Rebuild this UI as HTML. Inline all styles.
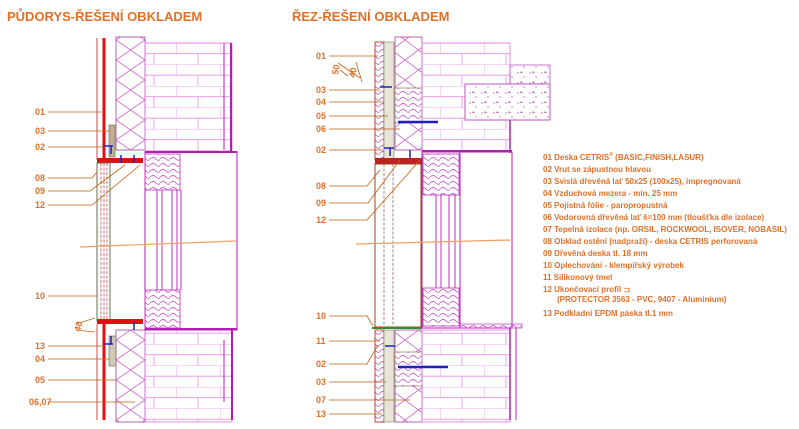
<!DOCTYPE html>
<html><head><meta charset="utf-8"><style>
body{margin:0;background:#fff;}
svg{display:block;font-family:"Liberation Sans",sans-serif;}
.t{fill:#e0702a;font-weight:bold;font-size:13px;}
.l{fill:#e0702a;font-weight:bold;font-size:9px;}
.g{fill:#e0702a;font-weight:bold;font-size:8px;}
</style></head><body>
<svg width="799" height="429" viewBox="0 0 799 429" xmlns="http://www.w3.org/2000/svg">
<defs>
<pattern id="zz" width="29" height="20" patternUnits="userSpaceOnUse"><path d="M0,0 L29,20 M29,0 L0,20" stroke="#c040c0" stroke-width="0.7" fill="none"/></pattern>
<pattern id="zz2" width="27" height="20" patternUnits="userSpaceOnUse"><path d="M0,0 L27,20 M27,0 L0,20" stroke="#c040c0" stroke-width="0.7" fill="none"/></pattern>
<pattern id="br" width="44" height="21.5" patternUnits="userSpaceOnUse"><path d="M0,0 H44 M0,0 V10.7 M22,10.7 V21.5 M0,10.7 H44" stroke="#e890e8" stroke-width="0.8" fill="none"/></pattern>
<pattern id="wd" width="10" height="6" patternUnits="userSpaceOnUse"><path d="M0,3 Q3,0 6,3 T10,3" stroke="#c030c0" stroke-width="0.6" fill="none"/></pattern>
<pattern id="cn" width="12" height="10" patternUnits="userSpaceOnUse"><circle cx="2" cy="3" r="0.6" fill="#a030a0"/><circle cx="8" cy="7" r="0.6" fill="#a030a0"/><path d="M5,1 l2,2 -3,0z" fill="#c060c0"/></pattern>
</defs>
<text class="t" x="7" y="21">PŮDORYS-ŘEŠENÍ OBKLADEM</text>
<text class="t" x="292" y="21">ŘEZ-ŘEŠENÍ OBKLADEM</text>

<!-- LEFT drawing -->
<g>
<rect x="116" y="37" width="29" height="113" fill="url(#zz)" stroke="#a040a0" stroke-width="0.8"/>
<rect x="145" y="43" width="87" height="108" fill="url(#br)" stroke="#e070e0" stroke-width="0.8"/>
<line x1="231" y1="43" x2="231" y2="153" stroke="#b020b0" stroke-width="2"/>
<line x1="224" y1="43" x2="224" y2="150" stroke="#b020b0" stroke-width="1"/>
<rect x="116" y="330" width="29" height="92" fill="url(#zz)" stroke="#a040a0" stroke-width="0.8"/>
<rect x="145" y="330" width="87" height="92" fill="url(#br)" stroke="#e070e0" stroke-width="0.8"/>
<line x1="232" y1="328" x2="232" y2="420" stroke="#b020b0" stroke-width="2"/>
<line x1="224" y1="340" x2="224" y2="402" stroke="#b020b0" stroke-width="1"/>
<line x1="145" y1="152" x2="237" y2="152" stroke="#b020b0" stroke-width="2"/>
<line x1="145" y1="329" x2="237" y2="329" stroke="#b020b0" stroke-width="2"/>
<rect x="145" y="152" width="92" height="178" fill="none" stroke="#b020b0" stroke-width="1"/>
<rect x="145" y="154" width="35" height="36" fill="url(#wd)" stroke="#c030c0" stroke-width="0.8"/>
<rect x="145" y="290" width="35" height="38" fill="url(#wd)" stroke="#c030c0" stroke-width="0.8"/>
<g stroke="#b020b0" stroke-width="0.9"><line x1="157" y1="190" x2="157" y2="290"/><line x1="162" y1="190" x2="162" y2="290"/><line x1="172" y1="190" x2="172" y2="290"/><line x1="177" y1="190" x2="177" y2="290"/><line x1="181" y1="190" x2="181" y2="290"/></g>
<line x1="97" y1="38" x2="97" y2="160" stroke="#c02020" stroke-width="0.8"/>
<line x1="104" y1="38" x2="104" y2="160" stroke="#e01010" stroke-width="3"/>
<rect x="109" y="125" width="6" height="32" fill="#c0b090" stroke="#706050" stroke-width="0.6"/>
<rect x="97" y="158" width="46" height="5" fill="#e01010"/>
<rect x="97" y="163" width="13" height="158" fill="none" stroke="#607050" stroke-width="1"/>
<g stroke="#c03030" stroke-width="0.7" stroke-dasharray="3,1.5"><line x1="101" y1="163" x2="101" y2="320"/><line x1="104" y1="163" x2="104" y2="320"/><line x1="107" y1="163" x2="107" y2="320"/></g>
<rect x="97" y="319" width="46" height="5" fill="#e01010"/>
<line x1="104" y1="324" x2="104" y2="420" stroke="#e01010" stroke-width="3"/>
<line x1="97" y1="324" x2="97" y2="420" stroke="#c02020" stroke-width="0.8"/>
<rect x="109" y="336" width="7" height="30" fill="#d0c8b0" stroke="#706050" stroke-width="0.6"/>
<g stroke="#2020c0" stroke-width="1.5"><path d="M103,146 h10 M111,146 v8 M121,155 v8 M134,155 v8 M103,344 h10 M111,336 v8 M134,322 v8"/></g>
<path d="M80,247 L236,241" stroke="#f0a060" stroke-width="1.2"/>
<g stroke="#c06010" stroke-width="0.8" fill="none">
<path d="M48,112 H104 M48,131 H110 M48,147 H105"/>
<path d="M48,178 H92 L97,172 M48,191 H90 L125,165 M48,205 H92 L140,165"/>
<path d="M48,296 H97 M48,346 H104 M48,359 H110 M48,380 H116 M48,402 H135"/>
<path d="M76,324 L95,318 M76,330 L95,332"/>
</g>
<g class="l"><text x="35" y="115">01</text><text x="35" y="134">03</text><text x="35" y="150">02</text><text x="35" y="181">08</text><text x="35" y="194">09</text><text x="35" y="208">12</text><text x="35" y="299">10</text><text x="35" y="349">13</text><text x="35" y="362">04</text><text x="35" y="383">05</text><text x="29" y="405">06,07</text></g>
<text class="l" x="0" y="0" transform="translate(80,332) rotate(-75)">40</text>
</g>

<!-- RIGHT drawing -->
<g>
<rect x="395" y="37" width="27" height="113" fill="url(#zz2)" stroke="#a040a0" stroke-width="0.8"/>
<rect x="395" y="88" width="27" height="35" fill="#fff" stroke="#806040" stroke-width="0.6"/>
<rect x="395" y="88" width="27" height="35" fill="url(#wd)"/>
<rect x="422" y="43" width="88" height="108" fill="url(#br)" stroke="#e070e0" stroke-width="0.8"/>
<rect x="510" y="65" width="40" height="20" fill="url(#cn)" stroke="#c050c0" stroke-width="0.8"/>
<rect x="465" y="84" width="85" height="36" fill="#fff" stroke="#c050c0" stroke-width="1"/>
<rect x="465" y="84" width="85" height="36" fill="url(#cn)"/>
<line x1="510" y1="120" x2="510" y2="153" stroke="#b020b0" stroke-width="1.5"/>
<line x1="422" y1="151" x2="512" y2="151" stroke="#b020b0" stroke-width="2"/>
<rect x="422" y="152" width="90" height="176" fill="none" stroke="#b020b0" stroke-width="1"/>
<line x1="460" y1="152" x2="460" y2="328" stroke="#b020b0" stroke-width="1"/>
<rect x="423" y="154" width="36" height="41" fill="url(#wd)" stroke="#c030c0" stroke-width="0.8"/>
<rect x="423" y="288" width="36" height="38" fill="url(#wd)" stroke="#c030c0" stroke-width="0.8"/>
<g stroke="#b020b0" stroke-width="0.9"><line x1="436" y1="195" x2="436" y2="288"/><line x1="441" y1="195" x2="441" y2="288"/><line x1="449" y1="195" x2="449" y2="288"/><line x1="455" y1="195" x2="455" y2="288"/></g>
<rect x="460" y="324" width="62" height="4" fill="url(#wd)" stroke="#c030c0" stroke-width="0.7"/>
<rect x="395" y="330" width="27" height="92" fill="url(#zz2)" stroke="#a040a0" stroke-width="0.8"/>
<rect x="395" y="352" width="27" height="34" fill="#fff" stroke="#806040" stroke-width="0.6"/>
<rect x="395" y="352" width="27" height="34" fill="url(#wd)"/>
<rect x="422" y="330" width="88" height="92" fill="url(#br)" stroke="#e070e0" stroke-width="0.8"/>
<line x1="510" y1="328" x2="510" y2="420" stroke="#b020b0" stroke-width="1.5"/>
<line x1="516" y1="328" x2="516" y2="420" stroke="#b020b0" stroke-width="1"/>
<rect x="375" y="42" width="9" height="118" fill="url(#wd)" stroke="#b03020" stroke-width="0.9"/>
<rect x="384" y="42" width="10" height="118" fill="#e8e4d8" stroke="#708060" stroke-width="0.6"/>
<rect x="375" y="158" width="47" height="6" fill="#c02020"/>
<rect x="375" y="164" width="46" height="163" fill="none" stroke="#a04020" stroke-width="1"/>
<g stroke="#805050" stroke-width="0.7" stroke-dasharray="3,1.5"><line x1="384" y1="164" x2="384" y2="326"/><line x1="393" y1="164" x2="393" y2="326"/></g>
<line x1="372" y1="328" x2="422" y2="328" stroke="#309030" stroke-width="2"/>
<rect x="375" y="330" width="9" height="92" fill="url(#wd)" stroke="#b03020" stroke-width="0.9"/>
<rect x="384" y="330" width="10" height="92" fill="#e8e4d8" stroke="#708060" stroke-width="0.6"/>
<g stroke="#2020c0" stroke-width="1.5"><path d="M380,87 h12 M384,148 h10 M390,148 v8 M410,150 v8 M385,346 h10"/><path d="M398,122 h40 M398,367 h50" stroke-width="2.5"/></g>
<path d="M356,244 L510,240" stroke="#f0a060" stroke-width="1.2"/>
<g stroke="#c06010" stroke-width="0.8" fill="none">
<path d="M329,56 H378 M329,90 H380 M329,102 H384 M329,116 H388 M329,129 H400 M329,150 H383"/>
<path d="M329,186 H367 L380,170 M329,203 H368 L400,160 M329,220 H367 L420,160"/>
<path d="M329,316 H367 L373,326 M329,341 H380 M329,364 H367 L378,345 M329,382 H386 M329,400 H410 M329,414 H382"/>
<path d="M338,63 L360,78 M340,70 L348,76 M356,62 L362,82"/>
</g>
<g class="l"><text x="316" y="59">01</text><text x="316" y="93">03</text><text x="316" y="105">04</text><text x="316" y="119">05</text><text x="316" y="132">06</text><text x="316" y="153">02</text><text x="316" y="189">08</text><text x="316" y="206">09</text><text x="316" y="223">12</text><text x="316" y="319">10</text><text x="316" y="344">11</text><text x="316" y="367">02</text><text x="316" y="385">03</text><text x="316" y="403">07</text><text x="316" y="417">13</text></g>
<text class="l" x="0" y="0" transform="translate(338,75) rotate(-80)">50</text>
<text class="l" x="0" y="0" transform="translate(355,78) rotate(-80)">40</text>
</g>

<!-- Legend -->
<g class="g">
<text x="543" y="160">01  Deska CETRIS<tspan dy="-4" font-size="5">®</tspan><tspan dy="4"> (BASIC,FINISH,LASUR)</tspan></text>
<text x="543" y="172">02  Vrut se zápustnou hlavou</text>
<text x="543" y="184">03  Svislá dřevěná lať 50x25 (100x25), impregnovaná</text>
<text x="543" y="196">04  Vzduchová mezera - min. 25 mm</text>
<text x="543" y="208">05  Pojistná fólie - paropropustná</text>
<text x="543" y="220">06  Vodorovná dřevěná lať š=100 mm (tloušťka dle izolace)</text>
<text x="543" y="232">07  Tepelná izolace (np. ORSIL, ROCKWOOL, ISOVER, NOBASIL)</text>
<text x="543" y="244">08  Obklad ostění (nadpraží) - deska CETRIS perforovaná</text>
<text x="543" y="256">09  Dřevěná deska tl. 18 mm</text>
<text x="543" y="268">10  Oplechování - klempířský výrobek</text>
<text x="543" y="280">11  Silikonový tmel</text>
<text x="543" y="292">12  Ukončovací profil          ⊐</text>
<text x="557" y="302">(PROTECTOR 3563 - PVC, 9407 - Aluminium)</text>
<text x="543" y="316">13  Podkladní EPDM páska tl.1 mm</text>
</g>
</svg>
</body></html>
